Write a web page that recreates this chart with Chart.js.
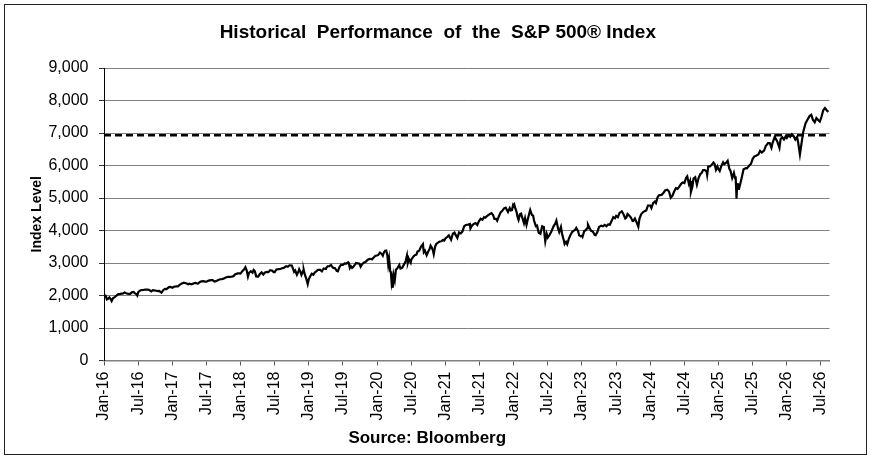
<!DOCTYPE html>
<html>
<head>
<meta charset="utf-8">
<title>Historical Performance of the S&amp;P 500 Index</title>
<script src="https://cdn.jsdelivr.net/npm/chart.js@4.4.1/dist/chart.umd.min.js"></script>
<style>
  html, body { margin: 0; padding: 0; background: #fff; }
  #wrap { width: 871px; height: 459px; position: relative; }
</style>
</head>
<body>
<div id="wrap"><canvas id="chart"></canvas></div>
<script>
// x = months since Jan-16, y = index level
const months = [
  0.1, 0.3, 0.5, 0.7, 0.95, 1.2, 1.35, 1.6, 1.9, 2.2, 2.5, 2.8, 3.0, 3.3, 3.6, 3.9, 4.3, 4.6, 4.9, 5.2, 5.4, 5.7, 5.85, 6.0,
  6.3, 6.6, 7.0, 7.3, 7.6, 7.9, 8.3, 8.6, 9.0, 9.4, 9.7, 10.1, 10.4, 10.7, 11.0, 11.4, 11.7, 12.0,
  12.3, 12.7, 13.0, 13.3, 13.6, 14.0, 14.4, 14.8, 15.0, 15.4, 15.8, 16.1, 16.5, 16.8, 17.1, 17.5, 17.8, 18.0,
  18.4, 18.8, 19.1, 19.4, 19.7, 20.0, 20.4, 20.7, 21.0, 21.4, 21.8, 22.0, 22.5, 22.8, 23.0, 23.5, 23.8, 24.0,
  24.3, 24.6, 24.85, 25.1, 25.3, 25.5, 25.8, 26.1, 26.3, 26.5, 26.75, 27.1, 27.4, 27.7, 28.0, 28.3, 28.6, 28.9,
  29.2, 29.6, 29.8, 30.0, 30.3, 30.7, 31.0, 31.3, 31.6, 32.0, 32.3, 32.6, 33.0, 33.3, 33.4, 33.6, 33.9, 34.2,
  34.3, 34.5, 34.7, 35.0, 35.1, 35.3, 35.5, 35.8, 36.0,
  36.2, 36.5, 36.8, 37.0, 37.3, 37.6, 38.0, 38.3, 38.6, 38.9, 39.0, 39.3, 39.6, 39.9, 40.1, 40.3, 40.6, 40.9,
  41.1, 41.4, 41.7, 42.0, 42.3, 42.6, 42.9, 43.05, 43.2, 43.4, 43.6, 43.8, 44.0, 44.3, 44.6, 44.9, 45.1, 45.4,
  45.7, 46.0, 46.3, 46.6, 46.9, 47.1, 47.4, 47.7, 48.0,
  48.2, 48.5, 48.8, 49.0, 49.2, 49.4, 49.6, 49.8, 49.95, 50.1, 50.3, 50.4, 50.55, 50.65, 50.75, 50.9, 51.1, 51.3,
  51.6, 51.9, 52.1, 52.4, 52.7, 53.0, 53.25, 53.4, 53.6, 53.9, 54.0, 54.3, 54.6, 54.9, 55.1, 55.4, 55.7, 56.05,
  56.2, 56.4, 56.7, 57.0, 57.2, 57.4, 57.6, 57.8, 57.95, 58.2, 58.4, 58.7, 59.0, 59.3, 59.6, 59.8, 60.0,
  60.3, 60.6, 60.9, 61.0, 61.3, 61.6, 61.9, 62.1, 62.4, 62.7, 63.0, 63.3, 63.6, 64.0, 64.3, 64.4, 64.7, 65.0,
  65.3, 65.6, 65.9, 66.2, 66.5, 66.8, 67.0, 67.3, 67.6, 67.9, 68.1, 68.4, 68.6, 68.9, 69.1, 69.4, 69.7, 70.0,
  70.3, 70.6, 70.9, 71.0, 71.3, 71.5, 71.7, 71.9, 72.0,
  72.1, 72.3, 72.5, 72.7, 72.85, 73.1, 73.3, 73.5, 73.8, 74.0, 74.25, 74.5, 74.7, 74.9, 75.2, 75.4, 75.6, 75.9,
  76.1, 76.4, 76.7, 77.0, 77.3, 77.4, 77.55, 77.8, 78.0, 78.3, 78.6, 79.0, 79.3, 79.5, 79.8, 80.0, 80.3, 80.5,
  80.8, 80.95, 81.2, 81.4, 81.7, 82.0, 82.3, 82.5, 82.8, 83.0, 83.3, 83.5, 83.8, 84.0,
  84.1, 84.4, 84.6, 84.9, 85.05, 85.3, 85.6, 85.9, 86.25, 86.4, 86.7, 87.0, 87.4, 87.7, 88.0, 88.3, 88.6, 88.9,
  89.2, 89.5, 89.8, 90.0, 90.3, 90.6, 91.0, 91.3, 91.6, 91.8, 92.0, 92.3, 92.6, 92.9, 93.0, 93.3, 93.6, 93.9,
  94.1, 94.4, 94.7, 95.0, 95.3, 95.6, 96.0,
  96.2, 96.5, 96.8, 97.0, 97.3, 97.6, 98.0, 98.3, 98.6, 99.0, 99.3, 99.6, 99.9, 100.2, 100.5, 100.8, 101.1, 101.4,
  101.7, 102.0, 102.3, 102.5, 102.8, 103.0, 103.15, 103.4, 103.6, 103.9, 104.2, 104.5, 104.8, 105.0, 105.3, 105.6,
  105.9, 106.0, 106.2, 106.5, 106.8, 107.1, 107.3, 107.55, 107.8, 108.0,
  108.2, 108.5, 108.8, 109.0, 109.3, 109.6, 109.9, 110.1, 110.4, 110.7, 110.9, 111.0, 111.07, 111.1, 111.23, 111.27,
  111.4, 111.6, 112.0, 112.4, 112.8, 113.0, 113.4, 113.7, 114.0, 114.3, 114.6, 115.0, 115.3, 115.6, 116.0, 116.3,
  116.7, 117.0, 117.3, 117.5, 117.9, 118.0, 118.3, 118.7, 118.9, 119.2, 119.5, 119.8, 120.0,
  120.3, 120.6, 120.9, 121.2, 121.5, 121.8, 122.0, 122.3, 122.6, 122.9, 123.3, 123.6, 124.0, 124.3, 124.6, 124.9,
  125.2, 125.5, 125.8, 126.1, 126.4, 126.7, 127.0, 127.3
];
const levels = [
  2012, 1990, 1880, 1900, 1940, 1880, 1829, 1920, 1950, 2000, 2040, 2040, 2060, 2060, 2095, 2070, 2047, 2050, 2097, 2110, 2075, 2040, 2000, 2099,
  2150, 2170, 2173, 2185, 2180, 2175, 2128, 2165, 2155, 2135, 2140, 2085, 2165, 2205, 2200, 2260, 2265, 2238,
  2270, 2280, 2279, 2330, 2365, 2395, 2375, 2345, 2362, 2345, 2375, 2390, 2360, 2410, 2435, 2440, 2425, 2423,
  2460, 2475, 2475, 2430, 2440, 2471, 2500, 2500, 2519, 2555, 2575, 2575, 2580, 2600, 2647, 2680, 2680, 2673,
  2750, 2800, 2872, 2760, 2581, 2700, 2745, 2700, 2786, 2750, 2588, 2582, 2660, 2710, 2648, 2710, 2725, 2720,
  2780, 2760, 2720, 2718, 2800, 2810, 2816, 2840, 2850, 2901, 2885, 2930, 2925, 2785, 2728, 2770, 2641, 2750,
  2806, 2735, 2632, 2760, 2790, 2640, 2545, 2351, 2507,
  2580, 2670, 2640, 2704, 2745, 2790, 2790, 2745, 2830, 2815, 2834, 2900, 2905, 2940, 2880, 2850, 2840, 2760,
  2744, 2880, 2950, 2941, 2990, 2980, 3020, 2980, 2844, 2900, 2850, 2880, 2926, 3000, 2990, 2980, 2887, 2970,
  3020, 3037, 3095, 3120, 3130, 3113, 3170, 3225, 3231,
  3250, 3320, 3280, 3225, 3330, 3380, 3386, 3225, 2954, 3130, 2746, 2741, 2386, 2480, 2237, 2630, 2470, 2790,
  2850, 2940, 2830, 2850, 2950, 3044, 3232, 3002, 3115, 3010, 3100, 3180, 3240, 3255, 3350, 3380, 3500, 3580,
  3330, 3380, 3237, 3363, 3420, 3534, 3480, 3390, 3270, 3510, 3585, 3630, 3662, 3670, 3710, 3690, 3756,
  3800, 3850, 3750, 3714, 3900, 3934, 3830, 3768, 3940, 3910, 3973, 4130, 4170, 4181, 4200, 4063, 4160, 4204,
  4230, 4170, 4290, 4360, 4330, 4410, 4395, 4440, 4480, 4520, 4537, 4470, 4358, 4360, 4300, 4440, 4560, 4605,
  4680, 4700, 4600, 4567, 4690, 4620, 4630, 4790, 4766,
  4796, 4670, 4577, 4400, 4327, 4500, 4520, 4400, 4225, 4380, 4170, 4360, 4500, 4630, 4480, 4460, 4290, 4132,
  4150, 3930, 3900, 4132, 4110, 3900, 3667, 3900, 3785, 3860, 3960, 4130, 4210, 4305, 4060, 3955, 4110, 3900,
  3700, 3585, 3650, 3577, 3750, 3871, 3960, 3990, 4020, 4080, 3990, 3850, 3820, 3840,
  3808, 3990, 4000, 4070, 4180, 4090, 3990, 3970, 3860, 3855, 3950, 4109, 4150, 4130, 4170, 4130, 4190, 4180,
  4290, 4410, 4380, 4450, 4410, 4540, 4588, 4500, 4370, 4400, 4510, 4460, 4400, 4290, 4288, 4370, 4250, 4117,
  4360, 4500, 4560, 4594, 4620, 4770, 4770,
  4690, 4840, 4890, 4845, 5030, 5090, 5096, 5150, 5230, 5254, 5200, 5010, 5070, 5200, 5300, 5280, 5350, 5430,
  5480, 5460, 5620, 5667, 5430, 5522, 5186, 5345, 5600, 5640, 5408, 5620, 5740, 5762, 5860, 5860,
  5810, 5705, 5973, 5970, 6020, 6090, 6050, 5870, 5970, 5882,
  5830, 5990, 6100, 6040, 6080, 6144, 5900, 5840, 5615, 5770, 5610, 5670, 5396, 5074, 4982, 5456,
  5280, 5280, 5569, 5886, 5920, 5912, 6000, 6050, 6205, 6280, 6300, 6339, 6450, 6400, 6460, 6600,
  6690, 6688, 6550, 6700, 6890, 6840, 6750, 6540, 6810, 6870, 6800, 6900, 6845,
  6930, 6880, 6960, 6900, 6800, 6880, 6700, 6340, 6700, 7050, 7300, 7400, 7520, 7560, 7400, 7330,
  7460, 7400, 7350, 7500, 7700, 7770, 7700, 7650
];
const tickLabels = [
  'Jan-16', 'Jul-16', 'Jan-17', 'Jul-17', 'Jan-18', 'Jul-18', 'Jan-19', 'Jul-19', 'Jan-20', 'Jul-20', 'Jan-21',
  'Jul-21', 'Jan-22', 'Jul-22', 'Jan-23', 'Jul-23', 'Jan-24', 'Jul-24', 'Jan-25', 'Jul-25', 'Jan-26', 'Jul-26'
];
const tickMonths = tickLabels.map((_, i) => i * 6);
const referenceLevel = 6930;
const lastMonth = 127.5;

const series = months.map((m, i) => ({ x: m, y: levels[i] }));

Chart.defaults.font.family = '"Liberation Sans", Arial, sans-serif';
Chart.defaults.color = '#000';

// thin frame round the whole picture
const framePlugin = {
  id: 'frame',
  afterDraw(chart) {
    const ctx = chart.ctx;
    ctx.save();
    ctx.strokeStyle = '#222';
    ctx.lineWidth = 1;
    ctx.strokeRect(4.5, 4.5, 862, 450);
    ctx.restore();
  }
};

new Chart(document.getElementById('chart'), {
  type: 'line',
  data: {
    datasets: [
      {
        data: series,
        borderColor: '#000',
        borderWidth: 2.2,
        pointRadius: 0,
        tension: 0
      },
      {
        data: [{ x: 0, y: referenceLevel }, { x: lastMonth, y: referenceLevel }],
        borderColor: '#000',
        borderWidth: 2.5,
        borderDash: [7, 4],
        pointRadius: 0
      }
    ]
  },
  options: {
    responsive: true,
    maintainAspectRatio: false,
    animation: false,
    layout: { padding: { left: 25, right: 41.5, top: 0, bottom: 0 } },
    plugins: {
      legend: { display: false },
      tooltip: { enabled: false },
      title: {
        display: true,
        text: '    Historical  Performance  of  the  S&P 500® Index',
        font: { size: 19, weight: 'bold' },
        color: '#000',
        padding: { top: 21, bottom: 24.2 }
      },
      subtitle: {
        display: true,
        position: 'bottom',
        text: 'Source: Bloomberg',
        font: { size: 17, weight: 'bold' },
        color: '#000',
        padding: { top: 0, bottom: 10.8 }
      }
    },
    scales: {
      x: {
        type: 'linear',
        min: 0,
        max: lastMonth,
        afterFit(scale) { scale.height = 67.3; },
        afterBuildTicks(scale) { scale.ticks = tickMonths.map(v => ({ value: v })); },
        grid: { drawOnChartArea: false, drawTicks: true, tickLength: 5, color: '#555' },
        border: { color: '#808080', width: 1.5 },
        ticks: {
          autoSkip: false,
          minRotation: 90,
          maxRotation: 90,
          padding: 6,
          font: { size: 16 },
          callback: (value, index) => tickLabels[index]
        }
      },
      y: {
        min: 0,
        max: 9000,
        afterFit(scale) { scale.width = 79; },
        grid: { color: '#808080', lineWidth: 1, tickLength: 5, tickColor: '#333' },
        border: { color: '#000', width: 1 },
        ticks: {
          stepSize: 1000,
          padding: 10.5,
          font: { size: 16 },
          callback: (value) => value.toLocaleString('en-US')
        },
        title: {
          display: true,
          text: 'Index Level',
          font: { size: 14, weight: 'bold' },
          padding: { top: 4, bottom: 4 }
        }
      }
    }
  },
  plugins: [framePlugin]
});
</script>
</body>
</html>
